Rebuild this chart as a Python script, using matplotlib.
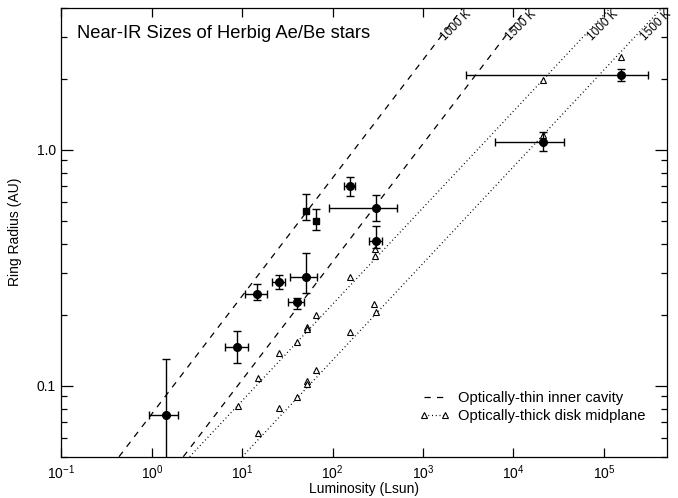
import numpy as np
import matplotlib
matplotlib.use("Agg")
import matplotlib.pyplot as plt
from matplotlib.lines import Line2D
from matplotlib.ticker import FixedLocator, NullLocator, LogLocator, FixedFormatter, LogFormatterMathtext

plt.rcParams['font.family'] = ['Liberation Sans', 'DejaVu Sans']
plt.rcParams['mathtext.fontset'] = 'custom'
plt.rcParams['mathtext.rm'] = 'Liberation Sans'
plt.rcParams['mathtext.it'] = 'Liberation Sans'

# ---- measured stars (filled circles) ----
circ_L = [1.42, 8.81, 14.4, 25.2, 40.1, 50.9, 154.5, 300, 300, 1.535e5, 2.12e4]
circ_R = [0.0751, 0.1453, 0.2454, 0.276, 0.226, 0.290, 0.699, 0.566, 0.4116, 2.078, 1.078]
circ_L_lo = [0.925, 6.41, 10.6, 21.4, 32.3, 34.0, 135, 90.6, 250, 2985, 6310]
circ_L_hi = [1.94, 11.5, 18.8, 29.4, 48.4, 67.2, 176, 516, 347, 3.05e5, 3.61e4]
circ_R_lo = [0.03, 0.1248, 0.230, 0.256, 0.211, 0.246, 0.638, 0.500, 0.382, 1.96, 0.99]
circ_R_hi = [0.130, 0.1705, 0.2705, 0.295, 0.235, 0.366, 0.764, 0.643, 0.473, 2.20, 1.19]

# ---- measured stars (filled squares) ----
sq_L = [50.9, 64.9]
sq_R = [0.548, 0.497]
sq_R_lo = [0.502, 0.455]
sq_R_hi = [0.647, 0.561]

# ---- model predictions (open triangles) ----
tri_L = [9.04, 14.77, 25.2, 40.1, 51.4, 51.4, 65.5, 154.7, 297, 297, 21250,
         14.77, 25.2, 40.1, 51.4, 51.4, 65.5, 154.7, 287, 300, 21250, 1.551e5]
tri_R = [0.0817, 0.1078, 0.1376, 0.1532, 0.1773, 0.1739, 0.1986, 0.2888, 0.3795, 0.3530, 1.980,
         0.0630, 0.0801, 0.0896, 0.1043, 0.1017, 0.1161, 0.1682, 0.2226, 0.2053, 1.158, 2.471]

# ---- model lines ----
thin1000_L = [0.433, 2773]
thin1000_R = [0.05, 4.0]
thin1500_L = [2.226, 14250]
thin1500_R = [0.05, 4.0]
thick1000_L = [2.62, 1.19e5]
thick1000_R = [0.05, 4.0]
thick1500_L = [10.0, 4.43e5]
thick1500_R = [0.05, 4.0]

line_labels = ["1000 K", "1500 K", "1000 K", "1500 K"]
label_L = [2330, 1.21e4, 9.96e4, 3.81e5]
label_R = [3.35, 3.35, 3.35, 3.35]

x_ticks = [1e-1, 1e0, 1e1, 1e2, 1e3, 1e4, 1e5]
y_ticks = [0.1, 1.0]
y_ticklabels = ["0.1", "1.0"]

fig = plt.figure(figsize=(6.78, 4.98), dpi=100)
ax = fig.add_axes([0.0907, 0.0829, 0.8931, 0.9020])
ax.set_xscale('log')
ax.set_yscale('log')
ax.set_xlim(0.1, 5e5)
ax.set_ylim(0.05, 4.0)

dash = (0, (5, 5))
dot = (0, (0.8, 2.2))
ax.plot(thin1000_L, thin1000_R, color='k', lw=0.9, ls=dash)
ax.plot(thin1500_L, thin1500_R, color='k', lw=0.9, ls=dash)
ax.plot(thick1000_L, thick1000_R, color='k', lw=0.9, ls=dot)
ax.plot(thick1500_L, thick1500_R, color='k', lw=0.9, ls=dot)

for t, lx, ly in zip(line_labels, label_L, label_R):
    ax.text(lx, ly, t, rotation=45, fontsize=8.5, ha='center', va='center',
            rotation_mode='anchor')

ax.plot(tri_L, tri_R, ls='none', marker='^', ms=4.2, mfc='white', mec='k', mew=0.8)

cL = np.array(circ_L); cR = np.array(circ_R)
xerr = [cL - np.array(circ_L_lo), np.array(circ_L_hi) - cL]
yerr = [cR - np.array(circ_R_lo), np.array(circ_R_hi) - cR]
ax.errorbar(cL, cR, xerr=xerr, yerr=yerr, fmt='o', color='k', ms=5.5,
            ecolor='k', elinewidth=1.0, capsize=3, capthick=1.0)

sL = np.array(sq_L); sR = np.array(sq_R)
syerr = [sR - np.array(sq_R_lo), np.array(sq_R_hi) - sR]
ax.errorbar(sL, sR, yerr=syerr, fmt='s', color='k', ms=5,
            ecolor='k', elinewidth=1.0, capsize=3, capthick=1.0)

ax.xaxis.set_major_locator(FixedLocator(x_ticks))
ax.xaxis.set_major_formatter(LogFormatterMathtext())
ax.xaxis.set_minor_locator(NullLocator())
ax.yaxis.set_major_locator(FixedLocator(y_ticks))
ax.yaxis.set_major_formatter(FixedFormatter(y_ticklabels))
ax.yaxis.set_minor_locator(LogLocator(base=10, subs=np.arange(2, 10)))
ax.yaxis.set_minor_formatter(plt.NullFormatter())

ax.tick_params(which='both', direction='in', top=True, right=True, width=0.9)
ax.tick_params(axis='x', which='major', length=6.5, labelsize=10, pad=5)
ax.tick_params(axis='y', which='major', length=8.6, labelsize=10, pad=4)
ax.tick_params(axis='y', which='minor', length=4.3)
for s in ax.spines.values():
    s.set_linewidth(0.9)

ax.set_xlabel("Luminosity (Lsun)", fontsize=10, labelpad=0)
ax.set_ylabel("Ring Radius (AU)", fontsize=10, labelpad=11)
ax.text(0.025, 0.962, "Near-IR Sizes of Herbig Ae/Be stars", transform=ax.transAxes,
        fontsize=13.2, ha='left', va='top')

handles = [Line2D([], [], color='k', lw=0.9, ls=dash),
           Line2D([], [], color='k', lw=0.9, ls=dot, marker='^', ms=4, mfc='white', mec='k', mew=0.8)]
leg = ax.legend(handles, ["Optically-thin inner cavity", "Optically-thick disk midplane"],
                loc='lower right', bbox_to_anchor=(0.986, 0.045), frameon=False, fontsize=10.6,
                handlelength=2.0, handletextpad=0.6, labelspacing=0.3, numpoints=2)

fig.savefig("out.png", dpi=100)
